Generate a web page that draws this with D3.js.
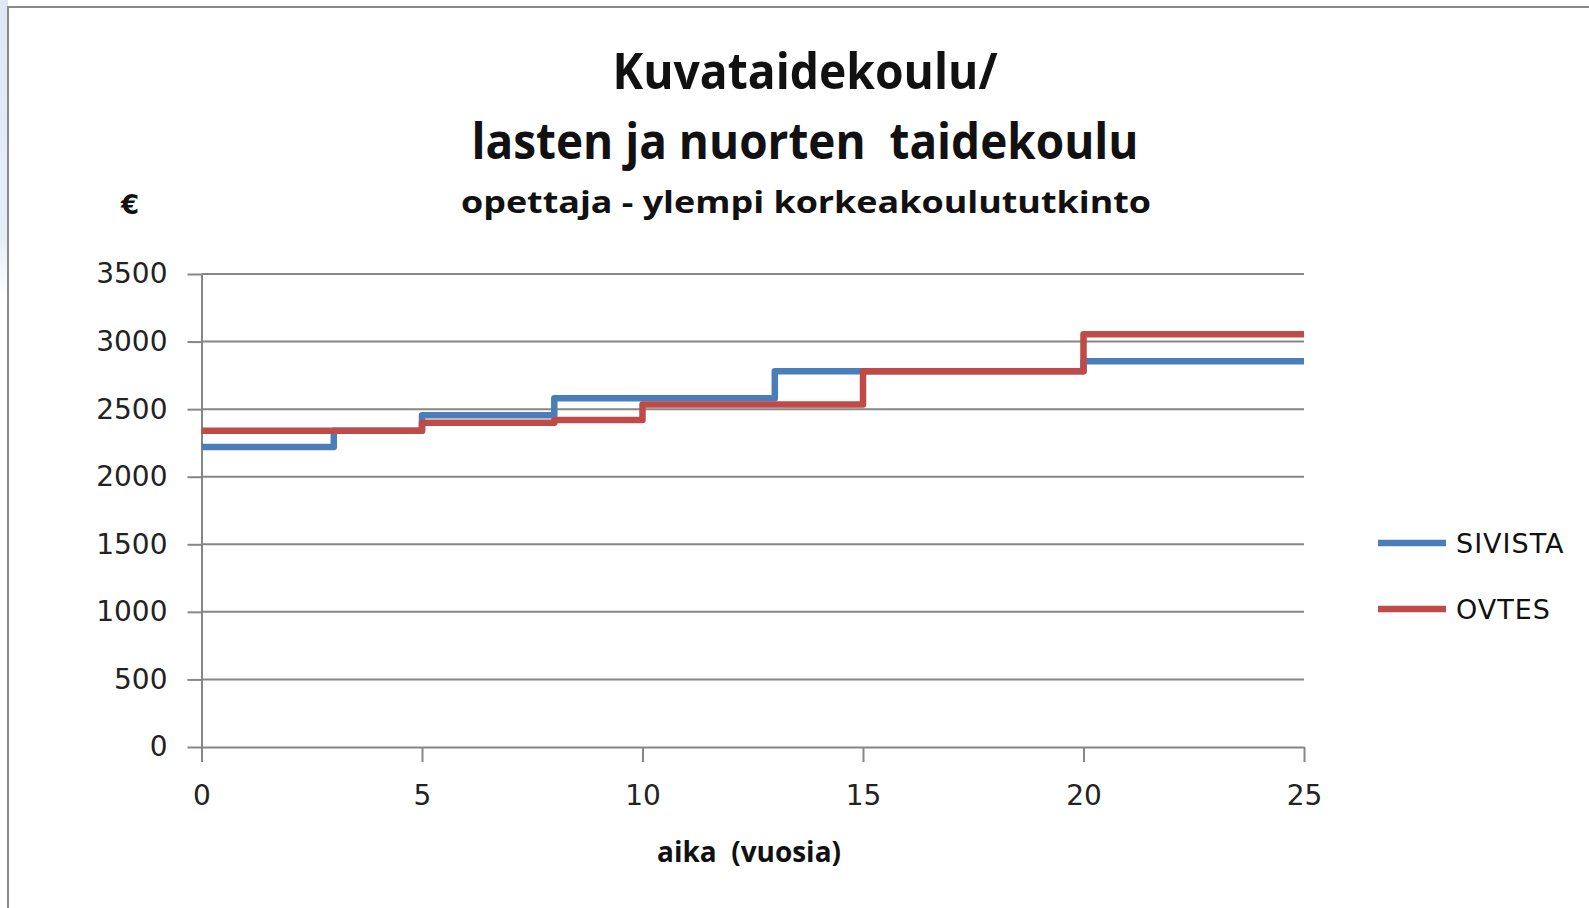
<!DOCTYPE html>
<html>
<head>
<meta charset="utf-8">
<script src="https://cdn.jsdelivr.net/npm/d3@7"></script>
<style>
  html, body { margin: 0; padding: 0; background: #fff; overflow: hidden; }
  svg { display: block; }
</style>
</head>
<body>
<div id="chart"></div>
<script>
// ── data ──
const sivistaYears = [0, 3, 5, 8, 13, 20, 25];
const sivistaPay   = [2220, 2340, 2455, 2580, 2780, 2855, 2855];
const ovtesYears   = [0, 5, 8, 10, 15, 20, 25];
const ovtesPay     = [2340, 2400, 2420, 2535, 2780, 3055, 3055];

const seriesNames  = ["SIVISTA", "OVTES"];
const seriesColors = ["#4A7EBB", "#BE4B48"];

const xTicks = [0, 5, 10, 15, 20, 25];
const yTicks = [0, 500, 1000, 1500, 2000, 2500, 3000, 3500];

const titleLines = ["Kuvataidekoulu/", "lasten ja nuorten\u00a0 taidekoulu"];
const subTitle   = "opettaja - ylempi korkeakoulututkinto";
const xLabel     = "aika\u00a0 (vuosia)";
const yUnit      = "€";

const width = 1589, height = 908;
const gridColor = "#868686";

const svg = d3.select("#chart").append("svg")
  .attr("width", width)
  .attr("height", height);

// light blue strip at the left edge, outside the chart frame
const grad = svg.append("defs").append("linearGradient")
  .attr("id", "edge-fade").attr("x1", 0).attr("y1", 0).attr("x2", 0).attr("y2", 1);
grad.append("stop").attr("offset", "0%").attr("stop-color", "#dde8f5");
grad.append("stop").attr("offset", "80%").attr("stop-color", "#e6eef8");
grad.append("stop").attr("offset", "100%").attr("stop-color", "#ffffff");
svg.append("rect").attr("x", 0).attr("y", 0).attr("width", 8).attr("height", 300)
  .attr("fill", "url(#edge-fade)");

// chart frame
svg.append("rect")
  .attr("x", 8).attr("y", 7)
  .attr("width", width + 20).attr("height", height + 20)
  .attr("fill", "#fff")
  .attr("stroke", "#8a8a8a")
  .attr("stroke-width", 2);

// ── titles ──
const titleFont = "'Open Sans', 'Noto Sans', sans-serif";

svg.append("text")
  .attr("x", 805).attr("y", 89)
  .attr("text-anchor", "middle")
  .attr("font-family", titleFont)
  .attr("font-weight", 700)
  .attr("font-size", 50)
  .attr("textLength", 385).attr("lengthAdjust", "spacingAndGlyphs")
  .attr("fill", "#111")
  .text(titleLines[0]);

svg.append("text")
  .attr("x", 805).attr("y", 159)
  .attr("text-anchor", "middle")
  .attr("font-family", titleFont)
  .attr("font-weight", 700)
  .attr("font-size", 50)
  .attr("textLength", 667).attr("lengthAdjust", "spacingAndGlyphs")
  .attr("fill", "#111")
  .text(titleLines[1]);

svg.append("text")
  .attr("x", 806).attr("y", 213)
  .attr("text-anchor", "middle")
  .attr("font-family", titleFont)
  .attr("font-weight", 700)
  .attr("font-size", 31)
  .attr("textLength", 690).attr("lengthAdjust", "spacingAndGlyphs")
  .attr("fill", "#111")
  .text(subTitle);

svg.append("text")
  .attr("x", 130).attr("y", 214)
  .attr("text-anchor", "middle")
  .attr("font-family", "'DejaVu Sans', sans-serif")
  .attr("font-weight", 700)
  .attr("font-size", 26)
  .attr("fill", "#111")
  .text(yUnit);

// ── scales ──
const x = d3.scaleLinear().domain([0, 25]).range([201.5, 1304]);
const y = d3.scaleLinear().domain([0, 3500]).range([747, 274]);

// gridlines
svg.append("g")
  .selectAll("line")
  .data(yTicks.filter((v) => v > 0))
  .join("line")
  .attr("x1", x(0)).attr("x2", x(25))
  .attr("y1", (d) => y(d)).attr("y2", (d) => y(d))
  .attr("stroke", gridColor)
  .attr("stroke-width", 2);

// axes
const styleAxis = (g) => {
  g.select(".domain").attr("stroke", gridColor).attr("stroke-width", 2);
  g.selectAll(".tick line").attr("stroke", gridColor).attr("stroke-width", 2);
  g.selectAll(".tick text")
    .attr("font-family", "'DejaVu Sans', sans-serif")
    .attr("font-size", 28)
    .attr("fill", "#222");
};

svg.append("g")
  .attr("transform", `translate(${x(0)},0)`)
  .call(d3.axisLeft(y).tickValues(yTicks).tickFormat(d3.format("d"))
    .tickSize(14).tickSizeOuter(0).tickPadding(20))
  .call(styleAxis);

svg.append("g")
  .attr("transform", `translate(0,${y(0)})`)
  .call(d3.axisBottom(x).tickValues(xTicks).tickFormat(d3.format("d"))
    .tickSize(15).tickSizeOuter(0).tickPadding(23))
  .call(styleAxis);

svg.append("text")
  .attr("x", 749).attr("y", 862)
  .attr("text-anchor", "middle")
  .attr("font-family", titleFont)
  .attr("font-weight", 700)
  .attr("font-size", 28)
  .attr("textLength", 184).attr("lengthAdjust", "spacingAndGlyphs")
  .attr("fill", "#111")
  .text(xLabel);

// ── step lines ──
const series = [
  sivistaYears.map((yr, i) => ({ yr, pay: sivistaPay[i] })),
  ovtesYears.map((yr, i) => ({ yr, pay: ovtesPay[i] })),
];

const line = d3.line()
  .x((d) => x(d.yr))
  .y((d) => y(d.pay))
  .curve(d3.curveStepAfter);

svg.append("g")
  .selectAll("path")
  .data(series)
  .join("path")
  .attr("d", line)
  .attr("fill", "none")
  .attr("stroke", (d, i) => seriesColors[i])
  .attr("stroke-width", 6.5)
  .attr("stroke-linejoin", "round");

// ── legend ──
const legend = svg.append("g")
  .selectAll("g")
  .data(seriesNames)
  .join("g")
  .attr("transform", (d, i) => `translate(1378,${543 + i * 66})`);

legend.append("line")
  .attr("x1", 0).attr("x2", 68)
  .attr("stroke", (d, i) => seriesColors[i])
  .attr("stroke-width", 6.5);

legend.append("text")
  .attr("x", 78).attr("dy", "0.36em")
  .attr("font-family", "'DejaVu Sans', sans-serif")
  .attr("font-size", 27)
  .attr("letter-spacing", 1)
  .attr("fill", "#111")
  .text((d) => d);
</script>
</body>
</html>
